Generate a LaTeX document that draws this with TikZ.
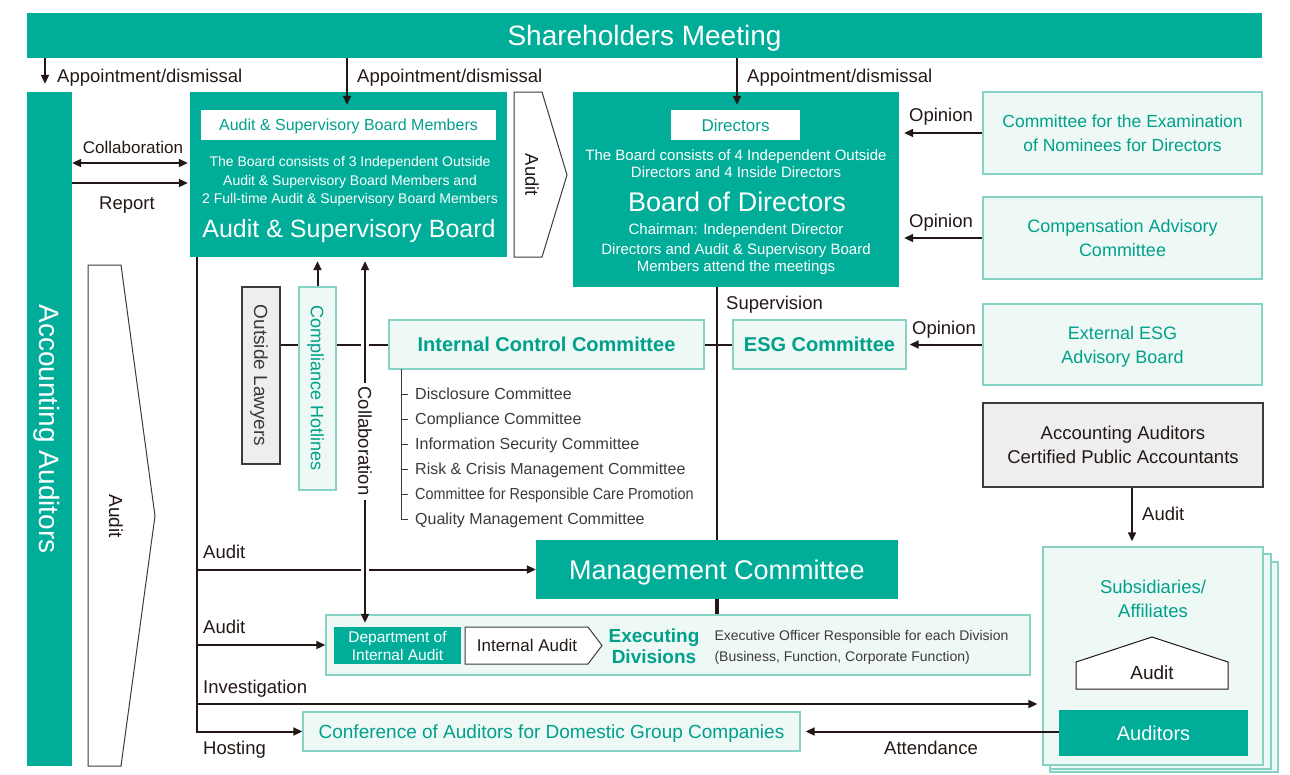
\documentclass[tikz,border=0pt]{standalone}
\usepackage{fontspec}
\setmainfont{Liberation Sans}
\newfontfamily\narrowfont[FakeStretch=0.9]{Liberation Sans}
\usetikzlibrary{arrows.meta}
\definecolor{mainteal}{HTML}{00AD99}
\definecolor{paleteal}{HTML}{EEF8F5}
\definecolor{edgeteal}{HTML}{86D3C6}
\definecolor{inkteal}{HTML}{00A08B}
\definecolor{ink}{HTML}{231815}
\definecolor{paper}{HTML}{EEEEEE}
\definecolor{inkgray}{HTML}{3E3A39}
\newcommand{\fsz}[2]{\fontsize{#1}{#2}\selectfont}

\begin{document}
\begin{tikzpicture}[x=1pt,y=-1pt,
  every node/.append style={text depth=0pt},
  darkbox/.style={fill=mainteal,text=white,inner sep=0pt,align=center},
  lightbox/.style={fill=paleteal,draw=edgeteal,line width=1.4pt,text=inkteal,inner sep=0pt,align=center},
  graybox/.style={fill=paper,draw=inkgray,line width=1.2pt,text=inkgray,inner sep=0pt,align=center},
  whitetag/.style={fill=white,text=inkteal,inner sep=0pt},
  chevron/.style={draw=inkgray,line width=1pt,fill=white},
  link/.style={draw=ink,line width=2pt},
  arrowlink/.style={link,-{Triangle[length=9pt,width=8pt]}},
  bothlink/.style={link,{Triangle[length=9pt,width=8pt]}-{Triangle[length=9pt,width=8pt]}},
  note/.style={text=ink,inner sep=0pt,font=\fsz{18.5}{22}},
  gap/.style={draw=white,line width=8pt}]
 \useasboundingbox (0,0) rectangle (1290,774);

 % top bar and left column
 \node[darkbox,minimum width=1235,minimum height=45,font=\fsz{28}{32}] (meeting) at (644.5,35.5) {Shareholders Meeting};
 \node[darkbox,minimum width=45,minimum height=674] (acc) at (49.5,429) {};
 \node[rotate=-90,text=white,font=\fsz{28}{30}] at (acc) {Accounting Auditors};
 \draw[chevron] (88,265) -- (121,265) -- (155,516) -- (121,766) -- (88,766) -- cycle;
 \node[rotate=-90,note,font=\fsz{19}{20}] at (116,516) {Audit};

 % audit & supervisory board
 \node[darkbox,minimum width=317,minimum height=165] (asb) at (348.5,174.5) {};
 \node[whitetag,minimum width=295,minimum height=30,font=\fsz{16}{19}] (asbmem) at (348.5,125) {Audit \& Supervisory Board Members};
 \node[text=white,align=center,font=\fsz{14}{18.5}] at (350,180) {The Board consists of 3 Independent Outside\\Audit \& Supervisory Board Members and\\2 Full-time Audit \& Supervisory Board Members};
 \node[text=white,font=\fsz{25}{28}] at (349,228) {Audit \& Supervisory Board};
 \draw[chevron] (514,92) -- (542,92) -- (567,175) -- (542,257) -- (514,257) -- cycle;
 \node[rotate=-90,note,font=\fsz{18.5}{20}] at (532,175) {Audit};

 % board of directors
 \node[darkbox,minimum width=326,minimum height=195] (bod) at (736,189.5) {};
 \node[whitetag,minimum width=129,minimum height=30,font=\fsz{17}{20}] (dir) at (735.5,125) {Directors};
 \node[text=white,align=center,font=\fsz{15}{17}] at (736,163.5) {The Board consists of 4 Independent Outside\\Directors and 4 Inside Directors};
 \node[text=white,font=\fsz{27}{30}] at (737,202) {Board of Directors};
 \node[text=white,font=\fsz{15}{17}] at (736,229) {Chairman: Independent Director};
 \node[text=white,align=center,font=\fsz{15}{17}] at (736,257.5) {Directors and Audit \& Supervisory Board\\Members attend the meetings};

 % advisory bodies on the right
 \node[lightbox,minimum width=279,minimum height=82,font=\fsz{17.5}{24}] (nominee) at (1122.5,133) {Committee for the Examination\\of Nominees for Directors};
 \node[lightbox,minimum width=279,minimum height=82,font=\fsz{18}{24}] (reward) at (1122.5,238) {Compensation Advisory\\Committee};
 \node[lightbox,minimum width=279,minimum height=81,font=\fsz{18}{24}] (extesg) at (1122.5,344.5) {External ESG\\Advisory Board};
 \node[graybox,text=ink,minimum width=280,minimum height=84,font=\fsz{18.5}{24}] (cpa) at (1123,445) {Accounting Auditors\\Certified Public Accountants};

 % committees row
 \node[lightbox,minimum width=173,minimum height=49,font=\bfseries\fsz{20}{24}] (esg) at (819.5,344.5) {ESG Committee};
 \node[lightbox,minimum width=315,minimum height=49,font=\bfseries\fsz{20}{24}] (icc) at (546.5,344.5) {Internal Control Committee};
 \node[graybox,minimum width=38,minimum height=177] (lawyer) at (261,375.5) {};
 \node[rotate=-90,text=inkgray,font=\fsz{19}{22}] at (lawyer) {Outside Lawyers};
 \node[lightbox,minimum width=37,minimum height=203] (hotline) at (317.5,388.5) {};
 \node[rotate=-90,text=inkteal,font=\fsz{18}{22}] at (hotline) {Compliance Hotlines};

 % execution
 \node[darkbox,minimum width=362,minimum height=59,font=\fsz{27}{30}] (mc) at (717,569.5) {Management Committee};
 \node[lightbox,minimum width=704,minimum height=60] (exd) at (678,645) {};
 \node[darkbox,minimum width=127,minimum height=37,font=\fsz{15.5}{18}] (dia) at (397.5,645.5) {Department of\\Internal Audit};
 \draw[chevron] (465,627) -- (588,627) -- (602,645.5) -- (588,664) -- (465,664) -- cycle;
 \node[note,font=\fsz{17}{20}] (ia) at (527,645.5) {Internal Audit};
 \node[text=inkteal,align=center,font=\bfseries\fsz{19}{21}] at (654,646) {Executing\\Divisions};
 \node[text=inkgray,align=left,anchor=west,font=\fsz{14}{21}] at (711,646) {Executive Officer Responsible for each Division\\(Business, Function, Corporate Function)};
 \node[lightbox,minimum width=497,minimum height=39,font=\fsz{19}{22}] (conf) at (551.5,731.5) {Conference of Auditors for Domestic Group Companies};

 % group companies
 \draw[lightbox] (1050,562) rectangle (1278,772);
 \draw[lightbox] (1050,554) rectangle (1271,769);
 \node[lightbox,minimum width=220,minimum height=218] (sub) at (1153,656) {};
 \node[text=inkteal,align=center,font=\fsz{18.5}{24}] at (1153,599) {Subsidiaries/\\Affiliates};
 \draw[draw=ink,line width=1pt,fill=white] (1076,689) -- (1076,662) -- (1152,637) -- (1228,662) -- (1228,689) -- cycle;
 \node[note,font=\fsz{19}{22}] at (1152,673) {Audit};
 \node[darkbox,minimum width=189,minimum height=46,font=\fsz{20}{24}] (aud) at (1153.5,733) {Auditors};

 % appointment arrows
 \coordinate (app1) at (45,0);
 \coordinate (app2) at (347,0);
 \coordinate (app3) at (737,0);
 \draw[arrowlink,shorten >=8pt] (meeting.south -| app1) -- (acc.north -| app1);
 \draw[arrowlink,shorten >=5pt] (meeting.south -| app2) -- (asbmem.north -| app2);
 \draw[arrowlink,shorten >=5pt] (meeting.south -| app3) -- (dir.north -| app3);
 \node[note,anchor=west] at (57,76) {Appointment/dismissal};
 \node[note,anchor=west] at (357,76) {Appointment/dismissal};
 \node[note,anchor=west] at (747,76) {Appointment/dismissal};

 % accounting auditors and the board
 \coordinate (row1) at (0,163);
 \coordinate (row2) at (0,183);
 \draw[bothlink,shorten >=2pt] (acc.east |- row1) -- (asb.west |- row1);
 \draw[arrowlink,shorten >=2pt] (acc.east |- row2) -- (asb.west |- row2);
 \node[note,font=\fsz{17}{20}] at (133,147) {Collaboration};
 \node[note] at (127,203) {Report};

 % opinions
 \draw[arrowlink,shorten >=5pt] (nominee.west) -- (nominee.west -| bod.east);
 \draw[arrowlink,shorten >=5pt] (reward.west) -- (reward.west -| bod.east);
 \draw[arrowlink,shorten >=3pt] (extesg.west) -- (esg.east);
 \node[note] at (941,115) {Opinion};
 \node[note] at (941,221) {Opinion};
 \node[note] at (944,328) {Opinion};

 % committee row links
 \draw[link] (lawyer.east |- icc.west) -- (hotline.west |- icc.west);
 \draw[link] (hotline.east |- icc.west) -- (icc.west);
 \draw[link] (icc.east) -- (esg.west);
 \draw[arrowlink,shorten >=4pt] (hotline.north) -- (hotline.north |- asb.south);

 % supervision
 \coordinate (sup) at (717,0);
 \draw[link] (bod.south -| sup) -- (mc.north -| sup);
 \draw[link,line width=3.5pt] (mc.south -| sup) -- (exd.north -| sup);
 \node[note,anchor=west] at (726,303) {Supervision};

 % internal control sub-committees
 \draw[draw=inkgray,line width=1pt] (401,369) -- (401,519);
 \foreach \y/\name in {394/{Disclosure Committee},419/{Compliance Committee},444/{Information Security Committee},469/{Risk \& Crisis Management Committee},519/{Quality Management Committee}} {
   \draw[draw=inkgray,line width=1pt] (401,\y) -- (408,\y);
   \node[anchor=west,text=inkgray,inner sep=0pt,font=\fsz{16}{19}] at (415,\y) {\name};
 }
 \draw[draw=inkgray,line width=1pt] (401,494) -- (408,494);
 \node[anchor=west,text=inkgray,inner sep=0pt,font=\narrowfont\fsz{16}{19}] at (415,494) {Committee for Responsible Care Promotion};

 % audit trunk from the audit & supervisory board
 \coordinate (trunk) at (197,0);
 \coordinate (probe) at (0,704);
 \draw[arrowlink] (asb.south -| trunk) -- (trunk |- conf.west) -- (conf.west);
 \draw[arrowlink] (trunk |- mc.west) -- (mc.west);
 \draw[arrowlink] (trunk |- exd.west) -- (exd.west);
 \draw[arrowlink,shorten >=5pt] (trunk |- probe) -- (sub.west |- probe);
 \node[note,anchor=west] at (203,552) {Audit};
 \node[note,anchor=west] at (203,627) {Audit};
 \node[note,anchor=west] at (203,687) {Investigation};
 \node[note,anchor=west] at (203,748) {Hosting};

 % collaboration with internal audit
 \coordinate (collab) at (365,0);
 \draw[gap] (365,335) -- (365,354);
 \draw[gap] (365,560) -- (365,580);
 \draw[bothlink,shorten <=4pt,shorten >=4pt] (asb.south -| collab) -- (dia.north -| collab);
 \node[rotate=-90,note,fill=white,inner xsep=4pt,inner ysep=1pt] at (365,441) {Collaboration};

 % group auditors
 \draw[arrowlink,shorten >=5pt] (aud.west |- conf.east) -- (conf.east);
 \node[note] at (931,748) {Attendance};
 \coordinate (cpadown) at (1132,0);
 \draw[arrowlink,shorten >=5pt] (cpa.south -| cpadown) -- (sub.north -| cpadown);
 \node[note,anchor=west] at (1142,514) {Audit};
\end{tikzpicture}
\end{document}
